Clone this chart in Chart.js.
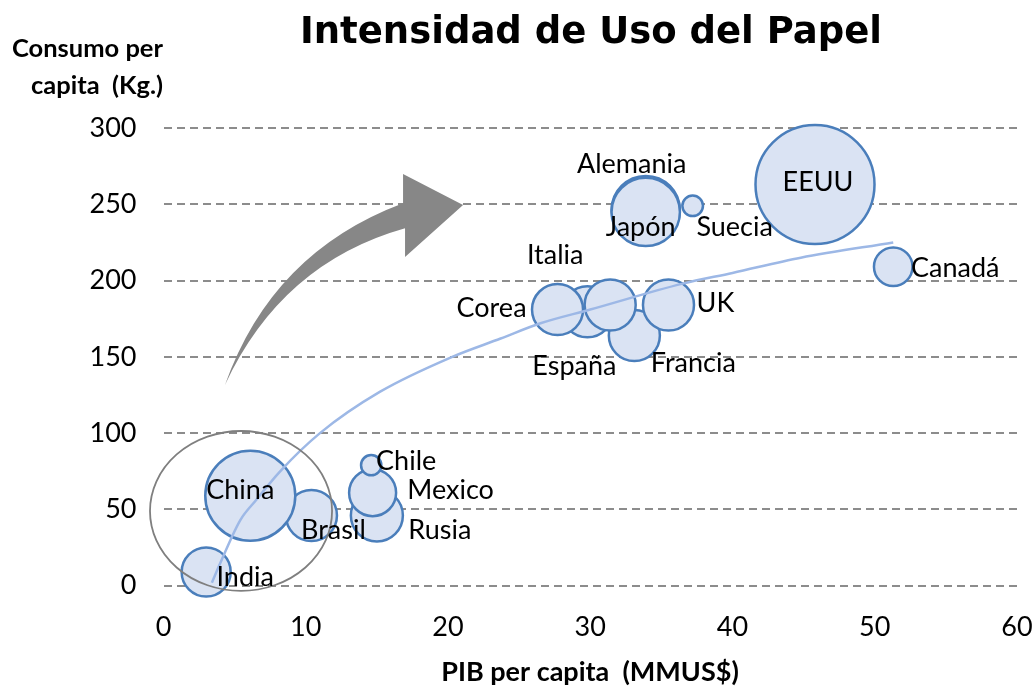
<!DOCTYPE html>
<html lang="es">
<head>
<meta charset="utf-8">
<title>Intensidad de Uso del Papel</title>
<script src="https://cdn.jsdelivr.net/npm/chart.js@4.4.1/dist/chart.umd.min.js"></script>
<style>
  html, body { margin: 0; padding: 0; background: #fff; }
  #wrap { position: relative; width: 1035px; height: 688px; }
</style>
</head>
<body>
<div id="wrap"><canvas id="chart"></canvas></div>
<script>
// datos (orden = orden de dibujo)
const paises  = ["Rusia", "Brasil", "India", "China", "Mexico", "Chile", "España", "Francia",
                 "Corea", "Italia", "UK", "Alemania", "Japón", "Suecia", "EEUU", "Canadá"];
const pib     = [15.0, 10.4, 3.0, 6.1, 14.7, 14.6, 29.8, 33.1, 27.7, 31.4, 35.5, 33.9, 33.9, 37.2, 45.8, 51.3];
const consumo = [46, 46, 9, 59, 61, 79, 179.5, 164, 181, 184, 184, 246.2, 245, 249, 263, 209];
const tamano  = [19.1, 18.4, 17.0, 57.2, 15.6, 2.9, 18.4, 18.4, 18.4, 18.4, 18.4, 33.0, 33.0, 3.0, 100, 10.5];

// linea de tendencia
const tendX = [3.4, 4.0, 5.4, 6.5, 8.2, 11.0, 15.2, 20.3, 23.7, 26.5, 30, 36.5, 40, 44.8, 51.3];
const tendY = [2, 15, 43, 56, 75, 100, 127, 150, 162, 172, 181, 198, 205, 215, 225];

const xTicks = [0, 10, 20, 30, 40, 50, 60];
const yTicks = [0, 50, 100, 150, 200, 250, 300];

// posicion de cada etiqueta respecto al centro de la burbuja (px)
const etiquetaDx = [63, 22, 39, -10, 78, 35, -13, 59, -66, -55, 47, -14, -5, 42, 3, 62];
const etiquetaDy = [15, 15, 5, -5, -2, -4, 54, 28, -1, -50, -2, -46, 15, 21, -2, 1];

const R_MAX = 59.5;
const maxTam = Math.max(...tamano);

const burbujas = paises.map((p, i) => ({
  x: pib[i], y: consumo[i], r: R_MAX * Math.sqrt(tamano[i] / maxTam)
}));
const tendencia = tendX.map((v, i) => ({ x: v, y: tendY[i] }));

const FONT_TXT = "Lato, 'Noto Sans', sans-serif";

const dibujos = {
  id: "dibujos",
  afterDatasetsDraw(chart) {
    const { ctx, scales: { x, y } } = chart;
    const px = v => x.getPixelForValue(v);
    const py = v => y.getPixelForValue(v);

    ctx.save();
    // elipse alrededor de India / China / Brasil
    ctx.beginPath();
    ctx.ellipse(px(5.45), py(49), px(6.4) - px(0), py(0) - py(52.4), 0, 0, Math.PI * 2);
    ctx.strokeStyle = "#7f7f7f";
    ctx.lineWidth = 1.8;
    ctx.stroke();

    // flecha curva
    ctx.beginPath();
    ctx.moveTo(px(4.32), py(131.6));
    ctx.quadraticCurveTo(px(7.63), py(218.6), px(16.84), py(250.7));
    ctx.lineTo(px(16.84), py(269.8));
    ctx.lineTo(px(21.06), py(249.5));
    ctx.lineTo(px(16.98), py(215.4));
    ctx.lineTo(px(16.98), py(234.3));
    ctx.quadraticCurveTo(px(8.3), py(211.5), px(4.32), py(131.6));
    ctx.closePath();
    ctx.fillStyle = "#878787";
    ctx.fill();

    // etiquetas de paises
    const meta = chart.getDatasetMeta(1);
    ctx.font = "27px " + FONT_TXT;
    ctx.fillStyle = "#000";
    ctx.textAlign = "center";
    ctx.textBaseline = "middle";
    meta.data.forEach((pt, i) => {
      ctx.fillText(paises[i], pt.x + etiquetaDx[i], pt.y + etiquetaDy[i]);
    });
    ctx.restore();
  },
  afterDraw(chart) {
    const { ctx } = chart;
    ctx.save();
    ctx.fillStyle = "#000";
    ctx.textBaseline = "alphabetic";
    ctx.textAlign = "center";
    ctx.font = "bold 37px 'DejaVu Sans', sans-serif";
    ctx.fillText("Intensidad de Uso del Papel", 591, 43);

    ctx.font = "bold 27px " + FONT_TXT;
    ctx.fillText("PIB per capita  (MMUS$)", 590, 681);

    ctx.font = "bold 25.5px " + FONT_TXT;
    ctx.textAlign = "right";
    ctx.fillText("Consumo per", 163, 57);
    ctx.fillText("capita  (Kg.)", 163, 94);
    ctx.restore();
  }
};

new Chart(document.getElementById("chart"), {
  type: "bubble",
  data: {
    datasets: [
      {
        type: "line",
        label: "Tendencia",
        data: tendencia,
        borderColor: "#9db8e6",
        borderWidth: 2.5,
        pointRadius: 0,
        fill: false,
        cubicInterpolationMode: "monotone",
        clip: false,
        order: 0
      },
      {
        label: "Paises",
        data: burbujas,
        backgroundColor: "#dae3f3",
        borderColor: "#4a7ebb",
        borderWidth: 2.5,
        hoverRadius: 0,
        clip: false,
        order: 1
      }
    ]
  },
  options: {
    responsive: true,
    maintainAspectRatio: false,
    animation: false,
    events: [],
    layout: { autoPadding: false, padding: { top: 128, right: 18, bottom: 0, left: 0 } },
    plugins: {
      legend: { display: false },
      title: { display: false },
      tooltip: { enabled: false }
    },
    scales: {
      x: {
        type: "linear",
        min: 0,
        max: 60,
        afterFit: s => { s.height = 102.3; s.paddingLeft = 0; s.paddingRight = 0; },
        afterBuildTicks: s => { s.ticks = xTicks.map(v => ({ value: v })); },
        grid: { display: false, drawTicks: false },
        border: { display: false },
        ticks: { padding: 25, color: "#000", font: { family: FONT_TXT, size: 27 } }
      },
      y: {
        type: "linear",
        min: 0,
        max: 300,
        afterFit: s => { s.width = 163.5; s.paddingTop = 0; s.paddingBottom = 0; },
        afterBuildTicks: s => { s.ticks = yTicks.map(v => ({ value: v })); },
        grid: { color: "#8c8c8c", lineWidth: 2, drawTicks: false },
        border: { display: false, dash: [8, 5] },
        ticks: { padding: 27, color: "#000", font: { family: FONT_TXT, size: 27 } }
      }
    }
  },
  plugins: [dibujos]
});
</script>
</body>
</html>
